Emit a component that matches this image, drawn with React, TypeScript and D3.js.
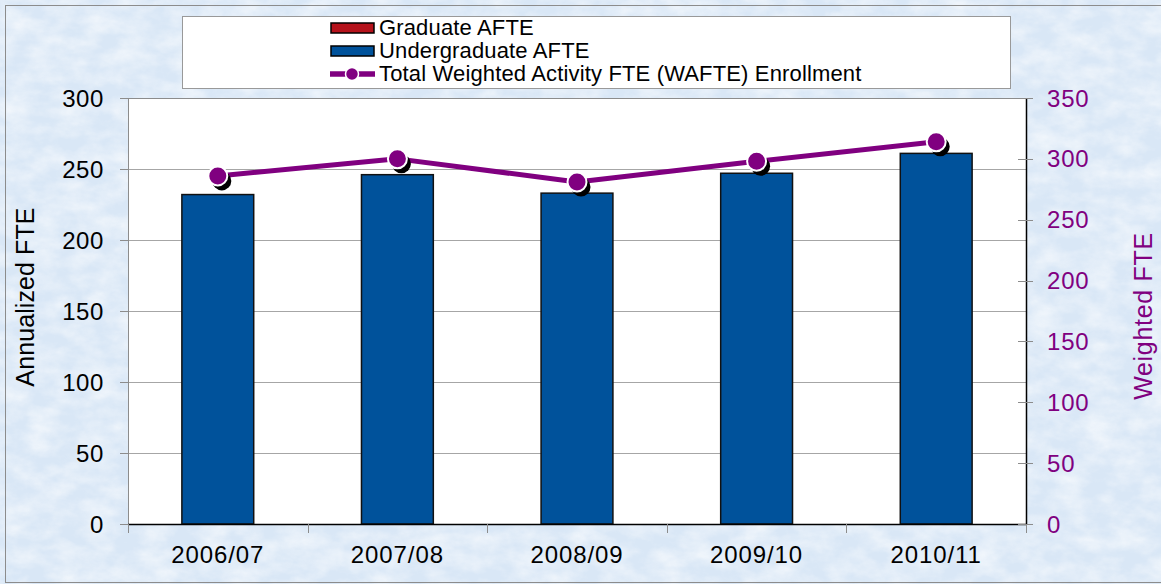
import React from "react";
import * as d3 from "d3";

const categories = ["2006/07", "2007/08", "2008/09", "2009/10", "2010/11"];
const graduateAfte = [0, 0, 0, 0, 0];
const undergradAfte = [232, 246, 233, 247, 261];
const wafte = [286, 300, 281, 298, 314];
const leftTicks = [0, 50, 100, 150, 200, 250, 300];
const rightTicks = [0, 50, 100, 150, 200, 250, 300, 350];

const W = 1161;
const H = 584;
const plot = { left: 128, right: 1026, top: 98, bottom: 524 };
const font = "'Liberation Sans', Arial, sans-serif";
const purple = "#800080";

export default function App() {
  const x = d3.scaleBand<string>().domain(categories).range([plot.left, plot.right]).padding(0);
  const yL = d3.scaleLinear().domain([0, 300]).range([plot.bottom, plot.top]);
  const yR = d3.scaleLinear().domain([0, 350]).range([plot.bottom, plot.top]);
  const barW = x.bandwidth() * 0.4;
  const cx = (c: string) => (x(c) as number) + x.bandwidth() / 2;

  const line = d3
    .line<number>()
    .x((_, i) => cx(categories[i]))
    .y((d) => yR(d));

  return (
    <svg width={W} height={H} style={{ position: "absolute", left: 0, top: 0, fontFamily: font }}>
      <defs>
        <filter id="tex" x="0" y="0" width="100%" height="100%">
          <feTurbulence type="fractalNoise" baseFrequency="0.035 0.06" numOctaves={4} seed={3} result="n" />
          <feColorMatrix
            in="n"
            type="matrix"
            values="0 0 0 0 1  0 0 0 0 1  0 0 0 0 1  1.6 0 0 0 -0.5"
          />
        </filter>
      </defs>
      {/* background */}
      <rect x={0} y={0} width={W} height={H} fill="#d9e7f6" />
      <rect x={0} y={0} width={W} height={H} fill="#fff" filter="url(#tex)" opacity={0.65} />
      <rect x={5.5} y={5.5} width={W + 10} height={577} fill="none" stroke="#8c8c8c" strokeWidth={1} />

      {/* legend */}
      <rect x={182.5} y={16.5} width={828} height={72} fill="#fff" stroke="#999" />
      <g fontSize={22} fill="#000" letterSpacing={0.15}>
        <rect x={331} y={23} width={43} height={10} fill="#b5121b" stroke="#000" strokeWidth={1.5} />
        <text x={379} y={35}>Graduate AFTE</text>
        <rect x={331} y={46} width={43} height={10} fill="#00529b" stroke="#000" strokeWidth={1.5} />
        <text x={379} y={58}>Undergraduate AFTE</text>
        <line x1={330} x2={375} y1={74} y2={74} stroke={purple} strokeWidth={5.5} />
        <circle cx={352} cy={74} r={6.5} fill={purple} stroke="#fff" strokeWidth={1.5} />
        <text x={379} y={81}>Total Weighted Activity FTE (WAFTE) Enrollment</text>
      </g>

      {/* plot area */}
      <rect x={plot.left} y={plot.top} width={plot.right - plot.left} height={plot.bottom - plot.top} fill="#fff" />
      {leftTicks.slice(1, -1).map((t) => (
        <line key={t} x1={plot.left} x2={plot.right} y1={Math.round(yL(t)) + 0.5} y2={Math.round(yL(t)) + 0.5} stroke="#a6a6a6" strokeWidth={1} />
      ))}
      <line x1={plot.left} x2={plot.right} y1={plot.top + 0.5} y2={plot.top + 0.5} stroke="#8c8c8c" />
      <line x1={plot.left + 0.5} x2={plot.left + 0.5} y1={plot.top} y2={plot.bottom} stroke="#8c8c8c" />

      {/* bars */}
      {categories.map((c, i) => {
        const x0 = cx(c) - barW / 2;
        const yu = yL(undergradAfte[i]);
        const yg = yL(undergradAfte[i] + graduateAfte[i]);
        return (
          <g key={c}>
            <rect x={x0} y={yu} width={barW} height={plot.bottom - yu} fill="#00529b" stroke="#111" strokeWidth={1.5} />
            {graduateAfte[i] > 0 && (
              <rect x={x0} y={yg} width={barW} height={yu - yg} fill="#b5121b" stroke="#111" strokeWidth={1.5} />
            )}
          </g>
        );
      })}

      {/* axes lines */}
      <line x1={plot.left} x2={plot.right + 1} y1={plot.bottom + 0.5} y2={plot.bottom + 0.5} stroke="#000" strokeWidth={1.5} />
      <line x1={plot.right + 0.5} x2={plot.right + 0.5} y1={plot.top} y2={plot.bottom + 1} stroke="#000" strokeWidth={1.5} />

      {/* left axis */}
      <g fontSize={24} textAnchor="end" fill="#000" letterSpacing={0.6}>
        {leftTicks.map((t) => (
          <g key={t}>
            <line x1={120} x2={plot.left} y1={Math.round(yL(t)) + 0.5} y2={Math.round(yL(t)) + 0.5} stroke="#8c8c8c" />
            <text x={104} y={yL(t) + 8.5}>{t}</text>
          </g>
        ))}
      </g>
      {/* right axis */}
      <g fontSize={24} fill={purple} letterSpacing={0.8}>
        {rightTicks.map((t) => (
          <g key={t}>
            <line x1={1018} x2={1033} y1={Math.round(yR(t)) + 0.5} y2={Math.round(yR(t)) + 0.5} stroke="#8c8c8c" />
            <text x={1047} y={yR(t) + 8.5}>{t}</text>
          </g>
        ))}
      </g>
      {/* bottom axis */}
      <g fontSize={24} textAnchor="middle" fill="#000" letterSpacing={0.9}>
        {categories.map((c) => (
          <text key={c} x={cx(c)} y={563}>{c}</text>
        ))}
      </g>
      {categories.concat([""]).map((c, i) => {
        const xx = Math.round(plot.left + i * x.bandwidth()) + 0.5;
        return <line key={i} x1={xx} x2={xx} y1={plot.bottom} y2={plot.bottom + 9} stroke="#8c8c8c" />;
      })}

      {/* axis titles */}
      <text transform="translate(34,297) rotate(-90)" textAnchor="middle" fontSize={25} fill="#000" letterSpacing={0.1}>Annualized FTE</text>
      <text transform="translate(1152,316) rotate(-90)" textAnchor="middle" fontSize={25} fill={purple} letterSpacing={0.7}>Weighted FTE</text>

      {/* WAFTE line */}
      <path d={line(wafte) || ""} fill="none" stroke={purple} strokeWidth={5} strokeLinejoin="round" />
      {wafte.map((v, i) => (
        <circle key={"s" + i} cx={cx(categories[i]) + 4} cy={yR(v) + 5} r={9.5} fill="#000" />
      ))}
      {wafte.map((v, i) => (
        <circle key={"m" + i} cx={cx(categories[i])} cy={yR(v)} r={9.5} fill={purple} stroke="#fff" strokeWidth={2} />
      ))}
    </svg>
  );
}
